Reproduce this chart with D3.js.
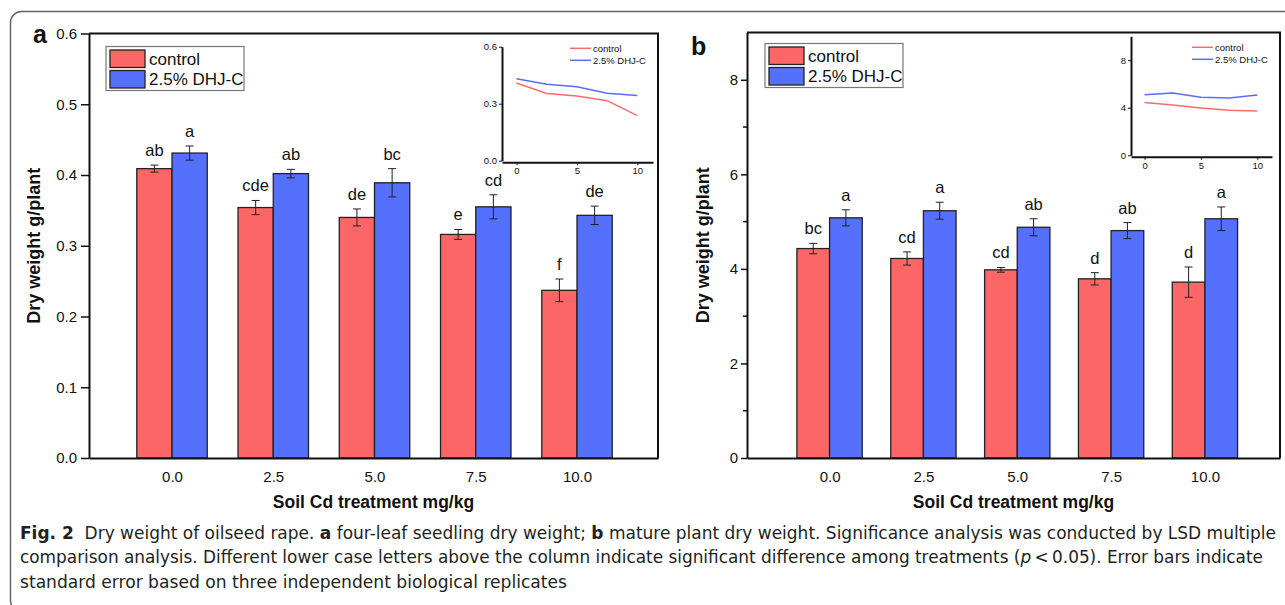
<!DOCTYPE html>
<meta charset="utf-8">
<title>Dry weight of oilseed rape</title>
<style>
body { margin: 0; background: #fff; }
text { font-family: "Liberation Sans", Arial, sans-serif; fill: #111; }
.cap text { font-family: "Liberation Sans Narrow", "DejaVu Sans Condensed", "Noto Sans", sans-serif; fill: #231f20; }
.ax path, .ax line { stroke: #111; }
</style>
<body>
<script src="https://cdn.jsdelivr.net/npm/d3@7"></script>
<script>

var doses = [0, 2.5, 5, 7.5, 10];
var doseLabels = ["0.0", "2.5", "5.0", "7.5", "10.0"];
var seriesNames = ["control", "2.5% DHJ-C"];
var colors = ["#fd6666", "#5470fd"];
var lineColors = ["#ff6b6b", "#5b6bff"];

// a: four-leaf seedling
var seedCtrl = [0.409, 0.354, 0.340, 0.316, 0.237];
var seedCtrlErr = [0.005, 0.010, 0.012, 0.007, 0.016];
var seedCtrlLet = ["ab", "cde", "de", "e", "f"];
var seedDhj = [0.431, 0.402, 0.389, 0.355, 0.343];
var seedDhjErr = [0.010, 0.006, 0.020, 0.017, 0.013];
var seedDhjLet = ["a", "ab", "bc", "cd", "de"];
var seedTicks = [0, 0.1, 0.2, 0.3, 0.4, 0.5, 0.6];

// b: mature plant
var matCtrl = [4.43, 4.22, 3.98, 3.79, 3.72];
var matCtrlErr = [0.11, 0.14, 0.05, 0.13, 0.32];
var matCtrlLet = ["bc", "cd", "cd", "d", "d"];
var matDhj = [5.08, 5.23, 4.88, 4.81, 5.06];
var matDhjErr = [0.17, 0.18, 0.18, 0.17, 0.25];
var matDhjLet = ["a", "a", "ab", "ab", "a"];
var matTicks = [0, 2, 4, 6, 8];
var matMinor = [1, 3, 5, 7];

var svg = d3.select("body").append("svg")
    .attr("width", 1285)
    .attr("height", 605);

// outer frame (bottom and right edges run off the page)
svg.append("rect")
    .attr("x", 10.5).attr("y", 11.5)
    .attr("width", 1300).attr("height", 600)
    .attr("rx", 11)
    .attr("fill", "none").attr("stroke", "#666").attr("stroke-width", 1.5);

var bw = 0.87;

function panel(p) {
  var x = d3.scaleLinear().domain(p.xDom).range([p.left, p.right]);
  var y = d3.scaleLinear().domain(p.yDom).range([458, p.top]);
  var g = svg.append("g");

  var sets = [
    {vals: p.ctrl, err: p.ctrlErr, lets: p.ctrlLet, off: -bw},
    {vals: p.dhj, err: p.dhjErr, lets: p.dhjLet, off: 0}
  ];

  sets.forEach(function(s, i) {
    var rows = doses.map(function(d, j) {
      return {d: d, v: s.vals[j], e: s.err[j], l: s.lets[j]};
    });
    g.selectAll(null).data(rows).enter().append("rect")
      .attr("x", function(r) { return x(r.d + s.off); })
      .attr("width", x(bw) - x(0))
      .attr("y", function(r) { return y(r.v); })
      .attr("height", function(r) { return y(0) - y(r.v); })
      .attr("fill", colors[i])
      .attr("stroke", "#222").attr("stroke-width", 1.3);

    var cx = function(r) { return x(r.d + s.off + bw / 2); };
    var eb = g.selectAll(null).data(rows).enter().append("g")
      .attr("stroke", "#222").attr("stroke-width", 1);
    eb.append("line")
      .attr("x1", cx).attr("x2", cx)
      .attr("y1", function(r) { return y(r.v + r.e); })
      .attr("y2", function(r) { return y(r.v - r.e); });
    eb.append("line")
      .attr("x1", function(r) { return cx(r) - 4; }).attr("x2", function(r) { return cx(r) + 4; })
      .attr("y1", function(r) { return y(r.v + r.e); }).attr("y2", function(r) { return y(r.v + r.e); });
    eb.append("line")
      .attr("x1", function(r) { return cx(r) - 4; }).attr("x2", function(r) { return cx(r) + 4; })
      .attr("y1", function(r) { return y(r.v - r.e); }).attr("y2", function(r) { return y(r.v - r.e); });

    g.selectAll(null).data(rows).enter().append("text")
      .attr("x", cx)
      .attr("y", function(r) { return y(r.v + r.e) - 9; })
      .attr("text-anchor", "middle")
      .attr("font-size", 16.5)
      .text(function(r) { return r.l; });
  });

  // frame top and right
  g.append("path")
    .attr("d", "M" + x.range()[0] + "," + y.range()[1] + "H" + x.range()[1] + "V" + y(0))
    .attr("fill", "none").attr("stroke", "#111").attr("stroke-width", 2);

  var ya = g.append("g").attr("class", "ax")
    .attr("transform", "translate(" + x.range()[0] + ",0)")
    .call(d3.axisLeft(y).tickValues(p.ticks).tickFormat(p.fmt)
      .tickSize(p.tick).tickSizeOuter(0).tickPadding(p.pad));
  ya.attr("font-family", null);
  ya.select(".domain").attr("stroke-width", 2);
  ya.selectAll(".tick line").attr("stroke-width", 1.5);
  ya.selectAll("text").attr("font-size", 15).attr("fill", "#111");
  if (p.minor) {
    g.selectAll(null).data(p.minor).enter().append("line")
      .attr("x1", x.range()[0] - 4).attr("x2", x.range()[0])
      .attr("y1", y).attr("y2", y)
      .attr("stroke", "#111").attr("stroke-width", 1.5);
  }

  var xa = g.append("g").attr("class", "ax")
    .attr("transform", "translate(0," + y(0) + ")")
    .call(d3.axisBottom(x).tickValues(doses)
      .tickFormat(function(d, i) { return doseLabels[i]; })
      .tickSize(0).tickSizeOuter(0));
  xa.attr("font-family", null);
  xa.select(".domain").attr("stroke-width", 2);
  xa.selectAll("text").attr("font-size", 15).attr("fill", "#111")
    .attr("y", 13).attr("dy", "0.71em");

  var mid = (x.range()[0] + x.range()[1]) / 2;
  g.append("text")
    .attr("x", mid).attr("y", 508)
    .attr("text-anchor", "middle").attr("font-weight", "bold").attr("font-size", 17.5)
    .text("Soil Cd treatment mg/kg");
  g.append("text")
    .attr("transform", "translate(" + p.ytx + "," + (458 + p.top) / 2 + ")rotate(-90)")
    .attr("text-anchor", "middle").attr("dy", "0.35em")
    .attr("font-weight", "bold").attr("font-size", 18)
    .text("Dry weight g/plant");
  g.append("text")
    .attr("x", p.lx).attr("y", p.ly)
    .attr("font-weight", "bold").attr("font-size", 25)
    .text(p.label);

  // legend
  var lg = g.append("g").attr("transform", "translate(" + p.leg[0] + "," + p.leg[1] + ")");
  lg.append("rect").attr("width", 138).attr("height", 44)
    .attr("fill", "#fff").attr("stroke", "#777").attr("stroke-width", 1.2);
  seriesNames.forEach(function(n, i) {
    lg.append("rect").attr("x", 4).attr("y", 3.5 + i * 20.5).attr("width", 35).attr("height", 17.5)
      .attr("fill", colors[i]).attr("stroke", "#222").attr("stroke-width", 1.3);
    lg.append("text").attr("x", 43).attr("y", 18 + i * 20.5)
      .attr("font-size", 17).text(n);
  });
}

function inset(p) {
  var x = d3.scaleLinear().domain([-1.2, 11.3]).range([p.left, p.right]);
  var y = d3.scaleLinear().domain(p.yDom).range([p.bottom, p.top]);
  var g = svg.append("g");
  [p.ctrl, p.dhj].forEach(function(vals, i) {
    g.append("path")
      .datum(vals)
      .attr("d", d3.line().x(function(v, j) { return x(doses[j]); }).y(function(v) { return y(v); }))
      .attr("fill", "none").attr("stroke", lineColors[i]).attr("stroke-width", 1.5);
  });
  var ya = g.append("g").attr("class", "ax")
    .attr("transform", "translate(" + x.range()[0] + ",0)")
    .call(d3.axisLeft(y).tickValues(p.ticks).tickFormat(p.fmt).tickSize(3).tickSizeOuter(0).tickPadding(2));
  ya.attr("font-family", null);
  ya.select(".domain").attr("stroke-width", 2);
  ya.selectAll("text").attr("font-size", 9.5).attr("fill", "#333");
  var xa = g.append("g").attr("class", "ax")
    .attr("transform", "translate(0," + (p.bottom + 1.5) + ")")
    .call(d3.axisBottom(x).tickValues([0, 5, 10]).tickSize(3).tickSizeOuter(0).tickPadding(2));
  xa.attr("font-family", null);
  xa.select(".domain").attr("stroke-width", 2);
  xa.selectAll("text").attr("font-size", 9.5).attr("fill", "#333");

  seriesNames.forEach(function(n, i) {
    g.append("line")
      .attr("x1", p.leg[0]).attr("x2", p.leg[0] + 21)
      .attr("y1", p.leg[1] + i * 12).attr("y2", p.leg[1] + i * 12)
      .attr("stroke", lineColors[i]).attr("stroke-width", 1.5);
    g.append("text")
      .attr("x", p.leg[0] + 23).attr("y", p.leg[1] + i * 12).attr("dy", "0.35em")
      .attr("font-size", 9.5).attr("fill", "#333").text(n);
  });
}

panel({
  xDom: [-2.05, 12], left: 89, right: 658, top: 33.5, yDom: [0, 0.6],
  ticks: seedTicks, fmt: d3.format(".1f"), tick: 8, pad: 4,
  ctrl: seedCtrl, ctrlErr: seedCtrlErr, ctrlLet: seedCtrlLet,
  dhj: seedDhj, dhjErr: seedDhjErr, dhjLet: seedDhjLet,
  ytx: 34, lx: 33, ly: 43, label: "a", leg: [106, 46.5]
});

panel({
  xDom: [-2.2, 12], left: 747, right: 1280, top: 32.5, yDom: [0, 9],
  ticks: matTicks, minor: matMinor, fmt: d3.format("d"), tick: 6, pad: 3,
  ctrl: matCtrl, ctrlErr: matCtrlErr, ctrlLet: matCtrlLet,
  dhj: matDhj, dhjErr: matDhjErr, dhjLet: matDhjLet,
  ytx: 703, lx: 691, ly: 55, label: "b", leg: [765, 43.5]
});

inset({
  left: 502, right: 653, top: 46.7, bottom: 160.7, yDom: [0, 0.6],
  ticks: [0, 0.3, 0.6], fmt: d3.format(".1f"),
  ctrl: seedCtrl, dhj: seedDhj, leg: [570, 48.3]
});

inset({
  left: 1131, right: 1272, top: 36.3, bottom: 155.3, yDom: [0, 10],
  ticks: [0, 4, 8], fmt: d3.format("d"),
  ctrl: matCtrl, dhj: matDhj, leg: [1192, 47.3]
});

// caption
var cap = svg.append("g").attr("class", "cap");
var capLines = [
  {y: 539, w: 1256, parts: [["Fig. 2", "bold"], ["  Dry weight of oilseed rape. ", ""], ["a", "bold"],
    [" four-leaf seedling dry weight; ", ""], ["b", "bold"],
    [" mature plant dry weight. Significance analysis was conducted by LSD multiple", ""]]},
  {y: 563, w: 1243, parts: [["comparison analysis. Different lower case letters above the column indicate significant difference among treatments (", ""],
    ["p", "italic"], ["\u2009<\u20090.05). Error bars indicate", ""]]},
  {y: 588, w: 547, parts: [["standard error based on three independent biological replicates", ""]]}
];
capLines.forEach(function(l) {
  var t = cap.append("text").attr("x", 20).attr("y", l.y).attr("font-size", 17)
    .attr("textLength", l.w).attr("lengthAdjust", "spacingAndGlyphs")
    .attr("xml:space", "preserve");
  l.parts.forEach(function(pt) {
    var s = t.append("tspan").text(pt[0]);
    if (pt[1] === "bold") s.attr("font-weight", "bold");
    if (pt[1] === "italic") s.attr("font-style", "italic");
  });
});

</script>
